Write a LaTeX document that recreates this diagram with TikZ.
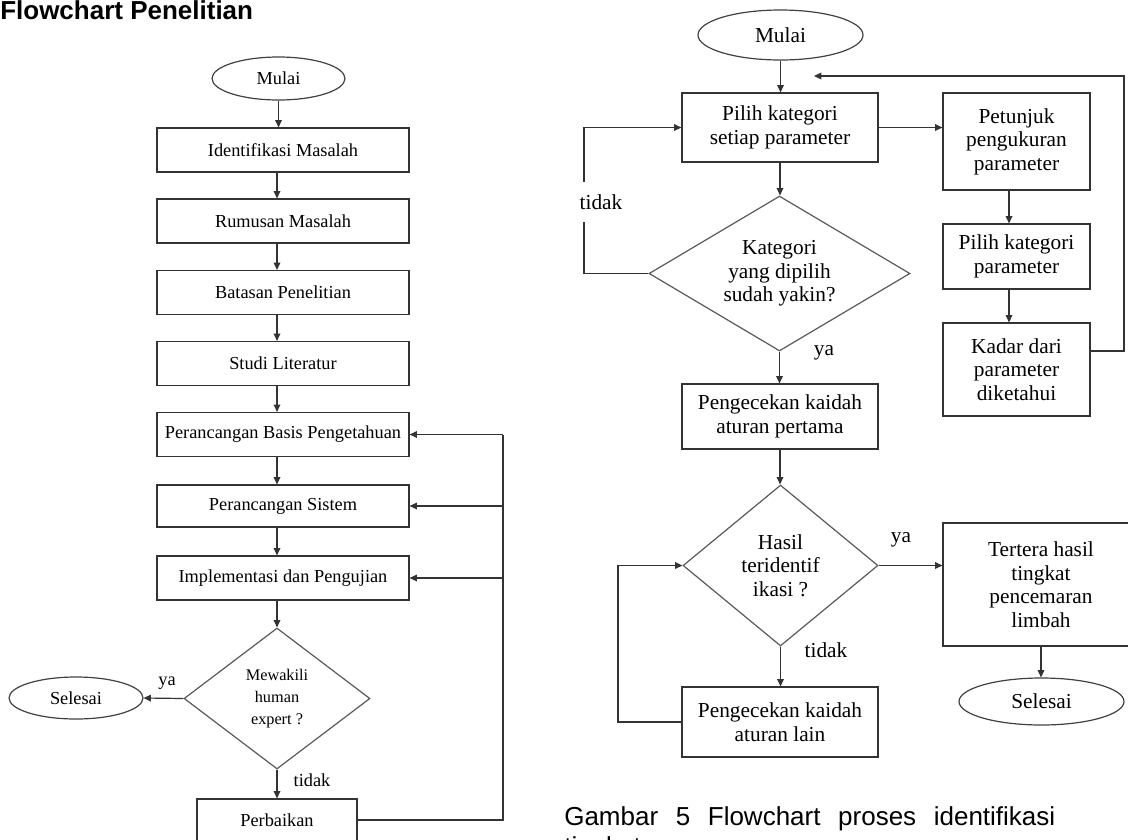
\documentclass[tikz,border=0pt]{standalone}
\usepackage{fontspec}
\setmainfont{Liberation Serif}
\newfontfamily\arialsans{Liberation Sans}
\usetikzlibrary{shapes.geometric,arrows.meta}

\newcommand{\lsz}{\fontsize{13.75}{16}\selectfont}
\newcommand{\rsz}{\fontsize{16}{17.6}\selectfont}

\begin{document}
\begin{tikzpicture}[x=0.75pt,y=-0.75pt,
  conn/.style={draw=black!80, line width=0.9pt},
  arr/.style={conn, -{Triangle[length=5.5pt,width=5pt]}},
  lbox/.style={draw=black!80, line width=0.9pt, rectangle, inner sep=0pt,
    minimum width=189pt, minimum height=33pt, font=\lsz},
  rbox/.style={draw=black!80, line width=0.9pt, rectangle, inner sep=0pt,
    align=center, font=\rsz},
  term/.style={draw=black!75, line width=0.9pt, ellipse, inner sep=0pt},
  decision/.style={draw=black!65, line width=0.9pt, diamond, inner sep=0pt, align=center},
  llbl/.style={inner sep=1pt, font=\lsz},
  rlbl/.style={inner sep=1pt, font=\rsz}
]
\useasboundingbox (0,0) rectangle (1128,839);
\clip (0,0) rectangle (1128,839);

% ---------- headings ----------
\node[anchor=base west, inner sep=0pt,
  font=\arialsans\bfseries\fontsize{19.5}{22}\selectfont] (title) at (0,19) {Flowchart Penelitian};

% ---------- research flowchart (left) ----------
\node[term, minimum width=99.75pt, minimum height=32.25pt, font=\lsz] (mulaiL) at (278.5,78.5) {Mulai};
\node[lbox] (idm) at (283,150)   {Identifikasi Masalah};
\node[lbox] (rm)  at (283,221)   {Rumusan Masalah};
\node[lbox] (bp)  at (283,292.5) {Batasan Penelitian};
\node[lbox] (sl)  at (283,363.5) {Studi Literatur};
\node[lbox] (pbp) at (283,434.5) {Perancangan Basis Pengetahuan};
\node[lbox, minimum height=31.5pt] (ps) at (283,506) {Perancangan Sistem};
\node[lbox] (ip)  at (283,578)   {Implementasi dan Pengujian};
\node[decision, aspect=1.3, minimum width=139.5pt, minimum height=105.75pt,
  font=\fontsize{12.2}{16.3}\selectfont] (dL) at (277,698.5) {Mewakili\\human\\expert ?};
\node[term, minimum width=100.5pt, minimum height=31.5pt, font=\lsz] (selL) at (76,698) {Selesai};
\node[lbox, minimum width=120pt, minimum height=31.5pt] (pb) at (277,820) {Perbaikan};

\coordinate (colL) at (277,0);
\draw[arr] (mulaiL.south) -- (mulaiL.south |- idm.north);
\foreach \a/\b in {idm/rm, rm/bp, bp/sl, sl/pbp, pbp/ps, ps/ip}
  \draw[arr] (\a.south -| colL) -- (\b.north -| colL);
\draw[arr] (ip.south -| colL) -- (dL.north);
\draw[arr] (dL.west) -- (selL.east);
\draw[arr] (dL.south) -- (pb.north);
\node[llbl] (yaL) at (167,683) {ya};
\node[llbl] (tidakL) at (312,780) {tidak};

\coordinate (fbL) at (503,0);
\draw[conn] (pb.east) -| (fbL |- pbp.east);
\draw[arr] (fbL |- pbp.east) -- (pbp.east);
\draw[arr] (fbL |- ps.east) -- (ps.east);
\draw[arr] (fbL |- ip.east) -- (ip.east);

% ---------- identification process (right) ----------
\node[term, minimum width=123.75pt, minimum height=37.5pt, font=\rsz] (mulaiR) at (780.5,35) {Mulai};
\node[rbox, minimum width=147pt, minimum height=51.75pt] (pk) at (780,127.5) {Pilih kategori\\setiap parameter};
\node[rbox, minimum width=110.25pt, minimum height=72.75pt] (pet) at (1016.5,141.5) {Petunjuk\\pengukuran\\parameter};
\node[rbox, minimum width=110.25pt, minimum height=48.75pt] (pkp) at (1016.5,256.5) {Pilih kategori\\parameter};
\node[rbox, minimum width=110.25pt, minimum height=69.75pt] (kadar) at (1016.5,369.5) {Kadar dari\\parameter\\diketahui};
\node[decision, aspect=1.68, minimum width=195.75pt, minimum height=116.25pt, font=\rsz]
  (dR1) at (779.5,273.5) {Kategori\\yang dipilih\\sudah yakin?};
\node[rbox, minimum width=147pt, minimum height=48.75pt] (pk1) at (780,416.5) {Pengecekan kaidah\\aturan pertama};
\node[decision, aspect=1.2, minimum width=146.25pt, minimum height=120.75pt, font=\rsz]
  (dR2) at (780.5,565.5) {Hasil\\teridentif\\ikasi ?};
\node[rbox, minimum width=147pt, minimum height=92.25pt] (ter) at (1041,584.5) {Tertera hasil\\tingkat\\pencemaran\\limbah};
\node[term, minimum width=123.75pt, minimum height=35.25pt, font=\rsz] (selR) at (1041.5,701.5) {Selesai};
\node[rbox, minimum width=147pt, minimum height=52.5pt] (pkl) at (780,722) {Pengecekan kaidah\\aturan lain};

\draw[arr] (mulaiR.south) -- (mulaiR.south |- pk.north);
\draw[arr] (pk.east) -- (pet.west |- pk.east);
\draw[arr] (pk.south) -- (pk.south |- dR1.north);

\coordinate (loopR1) at (584,0);
\draw[arr] (dR1.west) -| (loopR1 |- pk.west) -- (pk.west);
\node[rlbl, fill=white, inner ysep=9pt] (tidakR1) at (601,202) {tidak};

\coordinate (colR) at (1009,0);
\draw[arr] (pet.south -| colR) -- (pkp.north -| colR);
\draw[arr] (pkp.south -| colR) -- (kadar.north -| colR);

\coordinate (retR) at (1124,351);
\coordinate (retTip) at (814,76);
\draw[arr] (kadar.east |- retR) -- (retR) |- (retTip);

\draw[arr] (dR1.south) -- (dR1.south |- pk1.north);
\node[rlbl] (yaR1) at (824,353) {ya};
\draw[arr] (pk1.south) -- (pk1.south |- dR2.north);
\draw[arr] (dR2.east) -- (dR2.east -| ter.west);
\node[rlbl] (yaR2) at (901,540) {ya};
\draw[arr] (ter.south) -- (ter.south |- selR.north);
\draw[arr] (dR2.south) -- (dR2.south |- pkl.north);
\node[rlbl] (tidakR2) at (826,650) {tidak};

\coordinate (loopR2) at (618,0);
\draw[arr] (pkl.west) -| (loopR2 |- dR2.west) -- (dR2.west);

% ---------- caption ----------
\node[anchor=base west, inner sep=0pt, font=\arialsans\fontsize{19.5}{22}\selectfont] (cap1) at (564,825)
  {\makebox[368.25pt][l]{Gambar\hfill 5\hfill Flowchart\hfill proses\hfill identifikasi}};
\node[anchor=base west, inner sep=0pt, font=\arialsans\fontsize{19.5}{22}\selectfont] (cap2) at (564,855)
  {tingkat pencemaran};
\end{tikzpicture}
\end{document}
